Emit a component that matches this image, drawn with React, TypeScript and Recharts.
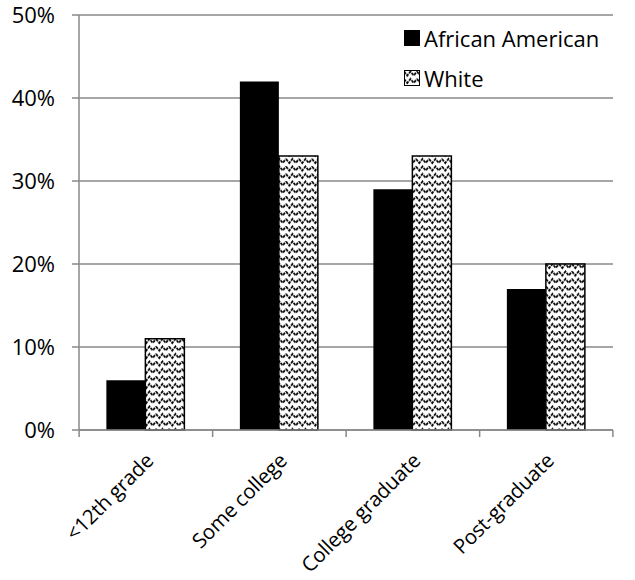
import React from 'react';
import {
  BarChart,
  Bar,
  XAxis,
  YAxis,
  CartesianGrid,
} from 'recharts';

const categories = ['<12th grade', 'Some college', 'College graduate', 'Post-graduate'];
const africanAmerican = [6, 42, 29, 17];
const white = [11, 33, 33, 20];
const yTicks = [0, 10, 20, 30, 40, 50];

const data = categories.map((name, i) => ({
  name,
  aa: africanAmerican[i],
  white: white[i],
}));

const FONT = '"Open Sans", sans-serif';
const FS = 22;
const BAND = 133.25;

const XTick = (props: any) => {
  const { x, y, payload, index } = props;
  const left = x - BAND / 2;
  const ax = x + 9;
  const ay = y + 24;
  return (
    <g>
      <line x1={left} y1={y - 8} x2={left} y2={y - 1} stroke="#888" strokeWidth={1.5} />
      {index === categories.length - 1 && (
        <line x1={x + BAND / 2} y1={y - 8} x2={x + BAND / 2} y2={y - 1} stroke="#888" strokeWidth={1.5} />
      )}
      <text
        x={ax}
        y={ay}
        textAnchor="end"
        transform={`rotate(-45, ${ax}, ${ay})`}
        fontFamily={FONT}
        fontSize={20.5}
        letterSpacing={-0.2}
        fill="#000"
      >
        {payload.value}
      </text>
    </g>
  );
};

const LegendBox = () => (
  <div
    style={{
      position: 'absolute',
      left: 404,
      top: 18,
      fontFamily: FONT,
      fontSize: FS,
      color: '#000',
    }}
  >
    <div style={{ display: 'flex', alignItems: 'center', height: 40 }}>
      <svg width={16} height={16} style={{ marginRight: 4 }}>
        <rect x={0} y={0} width={16} height={16} fill="#000" />
      </svg>
      African American
    </div>
    <div style={{ display: 'flex', alignItems: 'center', height: 40 }}>
      <svg width={16} height={16} style={{ marginRight: 4 }}>
        <rect x={0.5} y={0.5} width={15} height={15} fill="url(#zigzag)" stroke="#000" />
      </svg>
      White
    </div>
  </div>
);

export default function App() {
  return (
    <div style={{ position: 'absolute', left: 0, top: 0, width: 635, height: 580, background: '#fff' }}>
      <svg width={0} height={0} style={{ position: 'absolute' }}>
        <defs>
          <pattern id="zigzag" width={13} height={7.5} patternUnits="userSpaceOnUse">
            <rect width={13} height={7.5} fill="#fff" />
            <polyline
              points="0,1.5 3.25,5.5 6.5,1.5 9.75,5.5 13,1.5"
              fill="none"
              stroke="#000"
              strokeWidth={1.8}
              strokeDasharray="3 1"
            />
          </pattern>
        </defs>
      </svg>
      <BarChart
        width={635}
        height={580}
        data={data}
        margin={{ top: 15, right: 22, bottom: 0, left: 0 }}
        barCategoryGap="20.5%"
        barGap={0}
      >
        <CartesianGrid vertical={false} stroke="#888" strokeWidth={1.5} />
        <XAxis
          dataKey="name"
          interval={0}
          height={150}
          axisLine={{ stroke: '#888', strokeWidth: 1.5 }}
          tickLine={false}
          tick={<XTick />}
        />
        <YAxis
          width={79}
          domain={[0, 50]}
          ticks={yTicks}
          tickFormatter={(v: number) => `${v}%`}
          axisLine={{ stroke: '#888', strokeWidth: 1.5 }}
          tickLine={{ stroke: '#888', strokeWidth: 1.5 }}
          tickSize={7}
          tickMargin={17}
          tick={{ fontFamily: FONT, fontSize: FS, fill: '#000' }}
        />
        <Bar dataKey="aa" name="African American" fill="#000" isAnimationActive={false} />
        <Bar
          dataKey="white"
          name="White"
          fill="url(#zigzag)"
          stroke="#000"
          strokeWidth={1.5}
          isAnimationActive={false}
        />
      </BarChart>
      <LegendBox />
    </div>
  );
}
